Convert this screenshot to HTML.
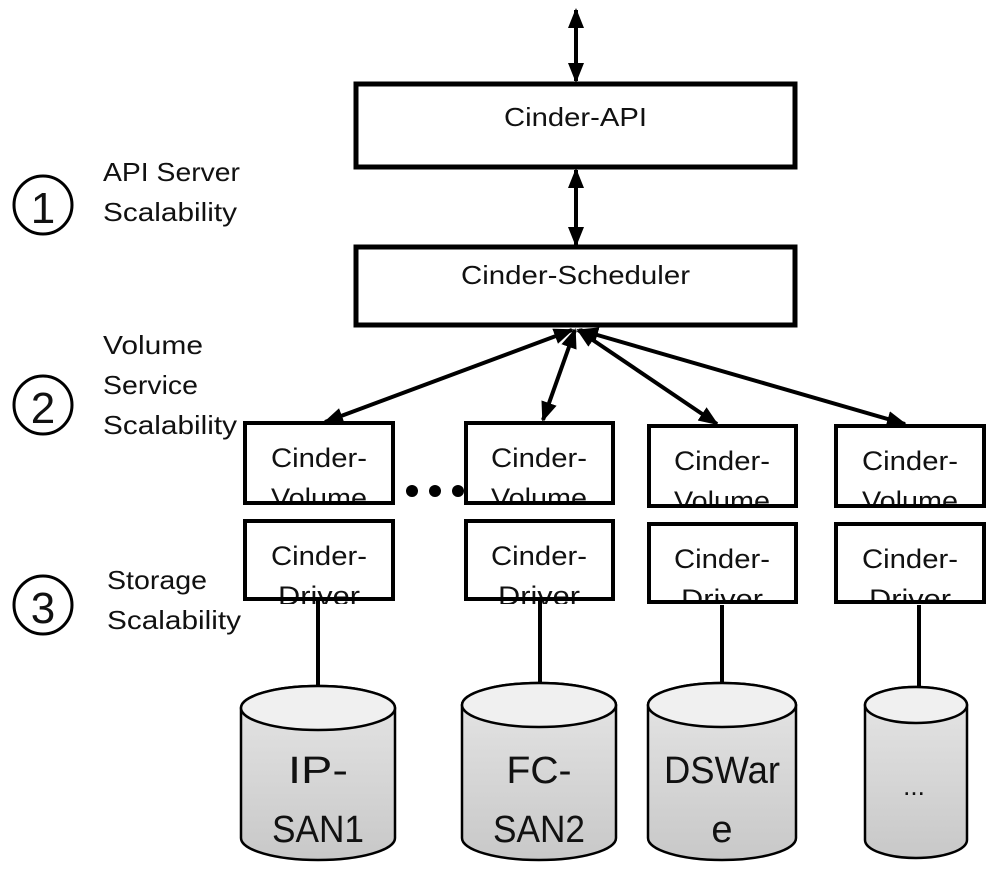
<!DOCTYPE html>
<html><head><meta charset="utf-8"><style>
html,body{margin:0;padding:0;background:#fff}
svg{display:block}
text{font-family:"Liberation Sans",sans-serif;fill:#111}
</style></head><body>
<svg width="1001" height="874" viewBox="0 0 1001 874" xmlns="http://www.w3.org/2000/svg">
<defs>
<marker id="ah" viewBox="0 0 10 10" refX="9" refY="5" markerWidth="5" markerHeight="5" orient="auto-start-reverse"><path d="M0,1 L10,5 L0,9 z" fill="#000"/></marker>
<linearGradient id="g" x1="0" y1="0" x2="0" y2="1"><stop offset="0" stop-color="#e6e6e6"/><stop offset="1" stop-color="#c8c8c8"/></linearGradient>
</defs>
<g stroke="#000" stroke-width="4" fill="none">
<line x1="576" y1="10" x2="576" y2="81" marker-start="url(#ah)" marker-end="url(#ah)"/>
<line x1="576" y1="170" x2="576" y2="245" marker-start="url(#ah)" marker-end="url(#ah)"/>
<line x1="572" y1="330" x2="325" y2="422" marker-start="url(#ah)" marker-end="url(#ah)"/>
<line x1="575" y1="330" x2="543" y2="420" marker-start="url(#ah)" marker-end="url(#ah)"/>
<line x1="578" y1="330" x2="717" y2="424" marker-start="url(#ah)" marker-end="url(#ah)"/>
<line x1="580" y1="330" x2="905" y2="424" marker-start="url(#ah)" marker-end="url(#ah)"/>
</g>
<rect x="356" y="84" width="439" height="83" fill="#fff" stroke="#000" stroke-width="5"/>
<text x="504" y="126" font-size="26" textLength="143" lengthAdjust="spacingAndGlyphs">Cinder-API</text>
<rect x="356" y="247" width="439" height="78" fill="#fff" stroke="#000" stroke-width="5"/>
<text x="461" y="284" font-size="26" textLength="229" lengthAdjust="spacingAndGlyphs">Cinder-Scheduler</text>

<g font-size="26">
<circle cx="43" cy="205" r="29" fill="none" stroke="#000" stroke-width="3"/>
<text x="43" y="223" font-size="44" text-anchor="middle">1</text>
<text x="103" y="181" textLength="137" lengthAdjust="spacingAndGlyphs">API Server</text><text x="103" y="221" textLength="134" lengthAdjust="spacingAndGlyphs">Scalability</text>
<circle cx="43" cy="405" r="29" fill="none" stroke="#000" stroke-width="3"/>
<text x="43" y="423" font-size="44" text-anchor="middle">2</text>
<text x="103" y="354" textLength="100" lengthAdjust="spacingAndGlyphs">Volume</text><text x="103" y="394" textLength="95" lengthAdjust="spacingAndGlyphs">Service</text><text x="103" y="434" textLength="134" lengthAdjust="spacingAndGlyphs">Scalability</text>
<circle cx="43" cy="605" r="29" fill="none" stroke="#000" stroke-width="3"/>
<text x="43" y="623" font-size="44" text-anchor="middle">3</text>
<text x="107" y="589" textLength="100" lengthAdjust="spacingAndGlyphs">Storage</text><text x="107" y="629" textLength="134" lengthAdjust="spacingAndGlyphs">Scalability</text>
</g>

<g stroke="#000" stroke-width="4">
<line x1="318" y1="600" x2="318" y2="690"/><line x1="540" y1="600" x2="540" y2="690"/>
<line x1="722" y1="603" x2="722" y2="690"/><line x1="919" y1="603" x2="919" y2="690"/>
</g>

<g font-size="27" text-anchor="middle">
<text x="319" y="467" textLength="96" lengthAdjust="spacingAndGlyphs">Cinder-</text><text x="319" y="507" textLength="96" lengthAdjust="spacingAndGlyphs">Volume</text>
<text x="539" y="467" textLength="96" lengthAdjust="spacingAndGlyphs">Cinder-</text><text x="539" y="507" textLength="96" lengthAdjust="spacingAndGlyphs">Volume</text>
<text x="722" y="470" textLength="96" lengthAdjust="spacingAndGlyphs">Cinder-</text><text x="722" y="510" textLength="96" lengthAdjust="spacingAndGlyphs">Volume</text>
<text x="910" y="470" textLength="96" lengthAdjust="spacingAndGlyphs">Cinder-</text><text x="910" y="510" textLength="96" lengthAdjust="spacingAndGlyphs">Volume</text>
<text x="319" y="565" textLength="96" lengthAdjust="spacingAndGlyphs">Cinder-</text><text x="319" y="605" textLength="82" lengthAdjust="spacingAndGlyphs">Driver</text>
<text x="539" y="565" textLength="96" lengthAdjust="spacingAndGlyphs">Cinder-</text><text x="539" y="605" textLength="82" lengthAdjust="spacingAndGlyphs">Driver</text>
<text x="722" y="568" textLength="96" lengthAdjust="spacingAndGlyphs">Cinder-</text><text x="722" y="608" textLength="82" lengthAdjust="spacingAndGlyphs">Driver</text>
<text x="910" y="568" textLength="96" lengthAdjust="spacingAndGlyphs">Cinder-</text><text x="910" y="608" textLength="82" lengthAdjust="spacingAndGlyphs">Driver</text>
</g>
<rect x="230" y="505" width="770" height="14" fill="#fff"/>
<rect x="230" y="604" width="770" height="10" fill="#fff"/>
<g stroke="#000" stroke-width="4">
<line x1="318" y1="603" x2="318" y2="620"/><line x1="540" y1="603" x2="540" y2="620"/>
<line x1="722" y1="605" x2="722" y2="620"/><line x1="919" y1="605" x2="919" y2="620"/>
</g>
<g fill="none" stroke="#000" stroke-width="4">
<rect x="245" y="423" width="148" height="80"/>
<rect x="466" y="423" width="147" height="80"/>
<rect x="649" y="426" width="147" height="80"/>
<rect x="836" y="426" width="148" height="80"/>
<rect x="245" y="521" width="148" height="78"/>
<rect x="466" y="521" width="147" height="78"/>
<rect x="649" y="524" width="147" height="78"/>
<rect x="836" y="524" width="148" height="78"/>
</g>
<g fill="#000"><circle cx="412" cy="491" r="6"/><circle cx="435" cy="491" r="6"/><circle cx="458" cy="491" r="6"/></g>

<g stroke="#000" stroke-width="2.5">
<path d="M241,708 A77,22 0 0 1 395,708 V838 A77,22 0 0 1 241,838 Z" fill="url(#g)"/>
<ellipse cx="318" cy="708" rx="77" ry="22" fill="#f0f0f0"/>
<path d="M462,705 A77,22 0 0 1 616,705 V838 A77,22 0 0 1 462,838 Z" fill="url(#g)"/>
<ellipse cx="539" cy="705" rx="77" ry="22" fill="#f0f0f0"/>
<path d="M648,705 A74,22 0 0 1 796,705 V838 A74,22 0 0 1 648,838 Z" fill="url(#g)"/>
<ellipse cx="722" cy="705" rx="74" ry="22" fill="#f0f0f0"/>
<path d="M865,705 A51,18 0 0 1 967,705 V840 A51,18 0 0 1 865,840 Z" fill="url(#g)"/>
<ellipse cx="916" cy="705" rx="51" ry="18" fill="#f0f0f0"/>
</g>
<g font-size="38" text-anchor="middle">
<text x="318" y="783" textLength="60" lengthAdjust="spacingAndGlyphs">IP-</text><text x="318" y="842" textLength="92" lengthAdjust="spacingAndGlyphs">SAN1</text>
<text x="539" y="783" textLength="65" lengthAdjust="spacingAndGlyphs">FC-</text><text x="539" y="842" textLength="92" lengthAdjust="spacingAndGlyphs">SAN2</text>
<text x="722" y="783" textLength="116" lengthAdjust="spacingAndGlyphs">DSWar</text><text x="722" y="842">e</text>
<text x="914" y="795" font-size="26">...</text>
</g>
</svg>
</body></html>
